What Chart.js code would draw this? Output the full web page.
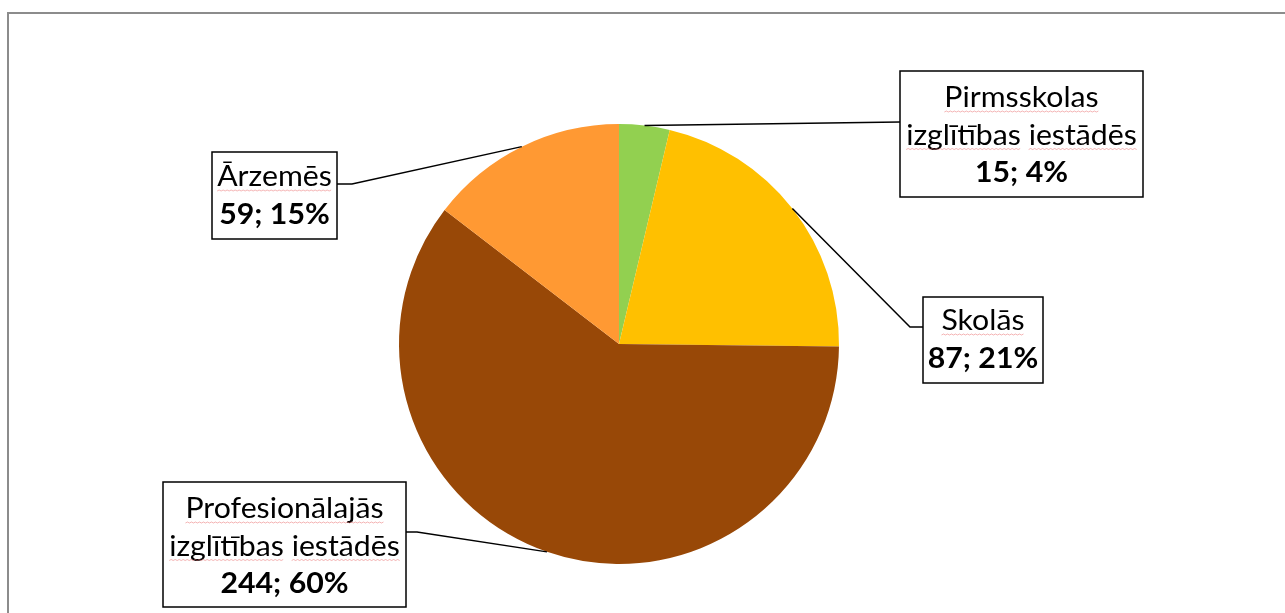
<!DOCTYPE html>
<html>
<head>
<meta charset="utf-8">
<script src="https://cdn.jsdelivr.net/npm/chart.js@4/dist/chart.umd.min.js"></script>
<style>
  html, body { margin: 0; padding: 0; background: #fff; }
  #wrap { position: relative; width: 1285px; height: 613px; }
  #frame { position: absolute; left: 7px; top: 12px; width: 1290px; height: 620px;
           border-left: 2px solid #8c8c8c; border-top: 2px solid #8c8c8c; box-sizing: border-box; }
  canvas { position: absolute; left: 0; top: 0; }
</style>
</head>
<body>
<div id="wrap">
  <div id="frame"></div>
  <canvas id="chart" width="1285" height="613"></canvas>
</div>
<script>
// data
const categories = ['Pirmsskolas izglītības iestādēs', 'Skolās', 'Profesionālajās izglītības iestādēs', 'Ārzemēs'];
const labelLines = [
  ['Pirmsskolas', 'izglītības iestādēs'],
  ['Skolās'],
  ['Profesionālajās', 'izglītības iestādēs'],
  ['Ārzemēs']
];
const values = [15, 87, 244, 59];
const sliceColors = ['#92d050', '#ffc000', '#984807', '#ff9933'];

// label box layout: box rect, first baseline, and leader-line elbow
const boxes = [
  { x: 900, y: 71, w: 243, h: 126, base: 107, elbow: null, join: 122 },
  { x: 923, y: 297, w: 120, h: 86, base: 330, elbow: [910, 327], join: 327 },
  { x: 163, y: 482, w: 243, h: 125, base: 518, elbow: [417, 532], join: 532 },
  { x: 212, y: 152, w: 125, h: 87, base: 186, elbow: [352, 184], join: 184 }
];

const FONT = 'Lato, "Open Sans", sans-serif';
const FONT_PX = 28;
const STRETCH = 1.08; // Lato is a bit narrower than the original face
const LINE_H = 37.5;

const total = values.reduce((a, b) => a + b, 0);

// squiggly spell-check underline under a word
const squiggle = (ctx, x0, x1, y) => {
  ctx.save();
  ctx.strokeStyle = 'rgba(235,120,120,0.55)';
  ctx.lineWidth = 1;
  ctx.beginPath();
  let up = true;
  ctx.moveTo(x0, y);
  for (let x = x0 + 2; x <= x1; x += 2) {
    ctx.lineTo(x, up ? y - 1 : y);
    up = !up;
  }
  ctx.stroke();
  ctx.restore();
};

const drawText = (ctx, text, cx, y) => {
  ctx.save();
  ctx.translate(cx, y);
  ctx.scale(STRETCH, 1);
  ctx.fillText(text, 0, 0);
  ctx.restore();
};

const labelPlugin = {
  id: 'calloutLabels',
  afterDatasetsDraw(chart) {
    const ctx = chart.ctx;
    const meta = chart.getDatasetMeta(0);
    meta.data.forEach((arc, i) => {
      const b = boxes[i];
      const p = arc.getProps(['x', 'y', 'startAngle', 'endAngle', 'outerRadius'], true);
      const mid = (p.startAngle + p.endAngle) / 2;
      const ax = p.x + Math.cos(mid) * p.outerRadius;
      const ay = p.y + Math.sin(mid) * p.outerRadius;
      const boxOnRight = b.x > p.x;
      const edgeX = boxOnRight ? b.x : b.x + b.w;

      // leader line
      ctx.save();
      ctx.strokeStyle = '#000';
      ctx.lineWidth = 1.5;
      ctx.beginPath();
      ctx.moveTo(ax, ay);
      if (b.elbow) ctx.lineTo(b.elbow[0], b.elbow[1]);
      ctx.lineTo(edgeX, b.join);
      ctx.stroke();

      // box
      ctx.fillStyle = '#fff';
      ctx.fillRect(b.x, b.y, b.w, b.h);
      ctx.lineWidth = 1.5;
      ctx.strokeRect(b.x, b.y, b.w, b.h);

      // text
      const cx = b.x + b.w / 2;
      ctx.fillStyle = '#000';
      ctx.textAlign = 'center';
      ctx.textBaseline = 'alphabetic';
      ctx.font = FONT_PX + 'px ' + FONT;
      let y = b.base;
      labelLines[i].forEach(line => {
        drawText(ctx, line, cx, y);
        const words = line.split(' ');
        const lw = ctx.measureText(line).width * STRETCH;
        const sp = ctx.measureText(' ').width * STRETCH;
        let wx = cx - lw / 2;
        words.forEach(w => {
          const ww = ctx.measureText(w).width * STRETCH;
          squiggle(ctx, wx, wx + ww, y + 5);
          wx += ww + sp;
        });
        y += LINE_H;
      });
      const pct = Math.round(values[i] / total * 100);
      ctx.font = 'bold ' + FONT_PX + 'px ' + FONT;
      drawText(ctx, values[i] + '; ' + pct + '%', cx, y);
      ctx.restore();
    });
  }
};

new Chart(document.getElementById('chart'), {
  type: 'pie',
  data: {
    labels: categories,
    datasets: [{
      data: values,
      backgroundColor: sliceColors,
      borderWidth: 0,
      hoverOffset: 0
    }]
  },
  options: {
    responsive: false,
    animation: false,
    radius: 220,
    layout: { padding: { left: 100, right: 147, top: 124, bottom: 49 } },
    plugins: {
      legend: { display: false },
      tooltip: { enabled: false }
    }
  },
  plugins: [labelPlugin]
});
</script>
</body>
</html>
